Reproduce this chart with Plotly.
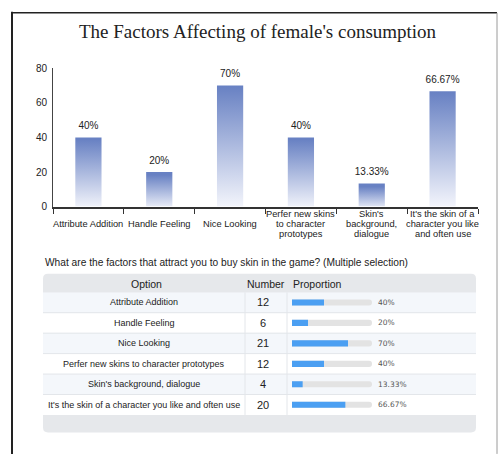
import plotly.graph_objects as go

# ---------------- data ----------------
categories = ["Attribute Addition", "Handle Feeling", "Nice Looking",
              "Perfer new skins to character prototypes",
              "Skin's background, dialogue",
              "It's the skin of a character you like and often use"]
axis_labels = ["Attribute Addition", "Handle Feeling", "Nice Looking",
               "Perfer new skins<br>to character<br>prototypes",
               "Skin's<br>background,<br>dialogue",
               "It's the skin of a<br>character you like<br>and often use"]
counts = [12, 6, 21, 12, 4, 20]
percents = [40, 20, 70, 40, 13.33, 66.67]
y_ticks = [0, 20, 40, 60, 80]
title_text = "The Factors Affecting of female's consumption"
subtitle_text = "What are the factors that attract you to buy skin in the game? (Multiple selection)"
header_labels = ["Option", "Number", "Proportion"]

# ---------------- layout helpers ----------------
W, H = 504, 456
def fx(p):
    return p / W
def fy(p):
    return 1 - p / H

SANS = "Liberation Sans, Arial, sans-serif"
fig = go.Figure()

# ---------------- bar chart (gradient bars) ----------------
bw = 0.37
for i, v in enumerate(percents):
    fig.add_trace(go.Scatter(
        x=[i - bw / 2, i + bw / 2, i + bw / 2, i - bw / 2, i - bw / 2],
        y=[0, 0, v, v, 0],
        mode="lines", fill="toself",
        line=dict(width=0, color="rgba(0,0,0,0)"),
        fillgradient=dict(type="vertical",
                          colorscale=[[0, "#f7f8fd"], [1, "#6881c3"]],
                          start=0, stop=v),
        hoverinfo="skip", showlegend=False,
        xaxis="x", yaxis="y"))

fig.add_trace(go.Scatter(
    x=list(range(len(percents))), y=percents,
    mode="markers+text", text=[f"{p:g}%" for p in percents],
    marker=dict(size=8, opacity=0),
    textposition="top center",
    textfont=dict(family=SANS, size=10, color="#222"),
    hoverinfo="skip", showlegend=False, xaxis="x", yaxis="y"))

# ---------------- table progress bars ----------------
rows = list(range(len(categories)))
fig.add_trace(go.Bar(
    y=rows, x=[100] * len(rows), orientation="h", width=0.3,
    marker=dict(color="#e3e3e3", cornerradius=3, line=dict(width=0)),
    hoverinfo="skip", showlegend=False, xaxis="x3", yaxis="y3"))
fig.add_trace(go.Bar(
    y=rows, x=percents, orientation="h", width=0.3,
    marker=dict(color="#4b9ff2", cornerradius=3, line=dict(width=0)),
    hoverinfo="skip", showlegend=False, xaxis="x3", yaxis="y3"))

shapes = []
annotations = []

# outer frame
shapes.append(dict(type="line", xref="paper", yref="paper",
                   x0=fx(12), x1=fx(12), y0=fy(6), y1=fy(460),
                   line=dict(color="#222", width=2)))
shapes.append(dict(type="line", xref="paper", yref="paper",
                   x0=fx(11), x1=fx(497), y0=fy(7), y1=fy(7),
                   line=dict(color="#222", width=1.5)))
shapes.append(dict(type="line", xref="paper", yref="paper",
                   x0=fx(497), x1=fx(497), y0=fy(7), y1=fy(460),
                   line=dict(color="#9a9a9a", width=1)))

# table panel (rounded)
L, R, T, B, r = 43, 476, 275, 438, 5
path = (f"M {fx(L + r)} {fy(T)} L {fx(R - r)} {fy(T)} "
        f"Q {fx(R)} {fy(T)} {fx(R)} {fy(T + r)} L {fx(R)} {fy(B - r)} "
        f"Q {fx(R)} {fy(B)} {fx(R - r)} {fy(B)} L {fx(L + r)} {fy(B)} "
        f"Q {fx(L)} {fy(B)} {fx(L)} {fy(B - r)} L {fx(L)} {fy(T + r)} "
        f"Q {fx(L)} {fy(T)} {fx(L + r)} {fy(T)} Z")
shapes.append(dict(type="path", xref="paper", yref="paper", path=path,
                   fillcolor="#e6e8eb", line=dict(width=0), layer="below"))
for i in rows:
    shapes.append(dict(type="rect", xref="paper", yref="y3",
                       x0=fx(L), x1=fx(R), y0=i - 0.5, y1=i + 0.5,
                       fillcolor="#f4f7fb" if i % 2 == 0 else "#ffffff",
                       line=dict(width=0), layer="below"))
for i in rows[1:]:
    shapes.append(dict(type="line", xref="paper", yref="y3",
                       x0=fx(L), x1=fx(R), y0=i - 0.5, y1=i - 0.5,
                       line=dict(color="#e3e6ea", width=1), layer="below"))
for xv in (245, 287):
    shapes.append(dict(type="line", xref="paper", yref="y3",
                       x0=fx(xv), x1=fx(xv), y0=-0.5, y1=len(rows) - 0.5,
                       line=dict(color="#e3e6ea", width=1), layer="below"))

# table texts
for i in rows:
    annotations.append(dict(x=fx(144), y=i, xref="paper", yref="y3",
                            text=categories[i], showarrow=False,
                            xanchor="center", yanchor="middle",
                            font=dict(family=SANS, size=9, color="#222")))
    annotations.append(dict(x=fx(263), y=i, xref="paper", yref="y3",
                            text=str(counts[i]), showarrow=False,
                            xanchor="center", yanchor="middle",
                            font=dict(family=SANS, size=11, color="#222")))
    annotations.append(dict(x=fx(376), y=i, xref="paper", yref="y3",
                            text=f"{percents[i]:g}%", showarrow=False,
                            xanchor="left", yanchor="middle",
                            font=dict(family="DejaVu Sans, sans-serif", size=7.5, color="#555")))

for txt, xp, anc in zip(header_labels, (146, 266, 291), ("center", "center", "left")):
    annotations.append(dict(x=fx(xp), y=fy(285), xref="paper", yref="paper",
                            text=txt, showarrow=False, xanchor=anc, yanchor="middle",
                            font=dict(family=SANS, size=10.5, color="#222")))

# bar chart category labels (one annotation per line, 10px line spacing)
for i, lab in enumerate(axis_labels):
    parts = lab.split("<br>")
    m = len(parts)
    for k, part in enumerate(parts):
        annotations.append(dict(x=i, y=fy(224 + (k - (m - 1) / 2) * 10.2),
                                xref="x", yref="paper",
                                text=part, showarrow=False,
                                xanchor="center", yanchor="middle",
                                font=dict(family=SANS, size=9.3, color="#222")))

# title & subtitle
annotations.append(dict(x=fx(258), y=fy(26), xref="paper", yref="paper",
                        text=title_text, showarrow=False,
                        xanchor="center", yanchor="middle",
                        font=dict(family="Liberation Serif, serif", size=19, color="#222")))
annotations.append(dict(x=fx(43), y=fy(263), xref="paper", yref="paper",
                        text=subtitle_text, showarrow=False,
                        xanchor="left", yanchor="middle",
                        font=dict(family=SANS, size=10.2, color="#222")))

n = len(percents)
fig.update_layout(
    width=W, height=H,
    margin=dict(l=0, r=0, t=0, b=0),
    paper_bgcolor="white", plot_bgcolor="rgba(0,0,0,0)",
    showlegend=False, barmode="overlay",
    xaxis=dict(domain=[fx(53), fx(478)], range=[-0.5, n - 0.5],
               tickvals=list(range(n)), ticktext=[""] * n,
               showgrid=False, zeroline=False,
               showline=True, linecolor="#333", linewidth=2,
               ticks="",
               minor=dict(tickvals=[k - 0.5 for k in range(n + 1)],
                          ticks="outside", ticklen=5, tickwidth=1,
                          tickcolor="#333", showgrid=False),
               fixedrange=True),
    yaxis=dict(domain=[fy(206), fy(64)], range=[0, 80],
               tickvals=y_ticks, showgrid=False, zeroline=False,
               showline=True, linecolor="#444", linewidth=1,
               ticks="outside", ticklen=3, tickcolor="rgba(0,0,0,0)",
               tickfont=dict(family=SANS, size=10, color="#222"),
               fixedrange=True),
    xaxis3=dict(domain=[fx(292), fx(372)], range=[0, 100], visible=False,
                anchor="y3", fixedrange=True),
    yaxis3=dict(domain=[fy(420), fy(294)], range=[len(rows) - 0.5, -0.5],
                visible=False, anchor="x3", fixedrange=True),
    shapes=shapes, annotations=annotations,
)

fig.write_html("out.html", config={"displayModeBar": False},
               post_script="document.body.style.margin='0';document.body.style.overflow='hidden';")
